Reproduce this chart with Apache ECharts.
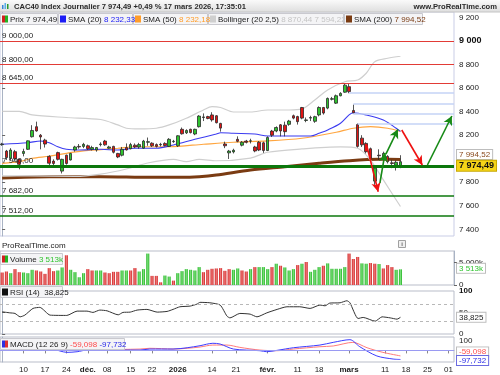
<!DOCTYPE html>
<html><head><meta charset="utf-8">
<script src="https://cdn.jsdelivr.net/npm/echarts@6/dist/echarts.min.js"></script>
<style>html,body{margin:0;padding:0;background:#fff}#c{width:500px;height:375px}</style>
</head><body><div id="c"></div><script>
// ---------- DATA ----------
const SLOTS = 106; // trading-day slots on the x axis (incl. empty future days)
const opens  = [8120,8065,8004,8060,7995,8045,8080,8187,8272,8200,8158,8020,7980,8052,7895,8030,7990,8075,8105,8105,8110,8080,8075,8120,8150,8090,8105,8045,8030,8095,8085,8115,8100,8090,8140,8132,8120,8118,8130,8105,8145,8110,8250,8220,8250,8210,8272,8350,8358,8372,8365,8300,8125,8050,8058,8165,8115,8150,8150,8100,8140,8135,8070,8235,8236,8288,8285,8292,8365,8358,8435,8325,8345,8318,8372,8435,8430,8505,8472,8535,8565,8612,8410,8290,8175,8130,8085,7810,8030,7995,8020,7965,7945,7930];
const closes = [8125,8010,8074,8000,7953,8062,8152,8240,8236,8185,8125,7962,7960,7995,7995,7960,8045,8100,8100,8122,8085,8095,8095,8125,8118,8100,8055,8015,8080,8075,8120,8100,8120,8150,8145,8110,8105,8122,8112,8165,8148,8195,8212,8240,8222,8250,8362,8355,8342,8330,8306,8260,8110,8065,8072,8148,8140,8140,8152,8066,8074,8070,8180,8200,8265,8236,8230,8320,8345,8315,8345,8330,8350,8357,8435,8388,8512,8510,8535,8555,8625,8570,8390,8105,8118,8060,8005,7920,8025,8045,7975,7960,7970,7974.49];
const lows   = [8110,7990,7985,7985,7910,8020,8075,8180,8230,8080,8095,7925,7930,7985,7875,7950,7985,8060,8085,8090,8075,8070,8060,8105,8110,8085,8045,8005,8020,8070,8080,8090,8085,8085,8110,8100,8095,8105,8105,8100,8135,8100,8205,8210,8215,8200,8265,8320,8335,8315,8300,8230,8090,7998,8045,8140,8105,8130,8130,8055,8065,8050,8065,8185,8225,8190,8190,8280,8335,8290,8335,8310,8320,8305,8360,8375,8420,8495,8465,8530,8560,8556,8385,8095,8100,8045,7990,7778,7990,7985,7960,7920,7900,7920];
const highs  = [8135,8075,8090,8075,8000,8085,8155,8285,8315,8210,8170,8030,7995,8060,8000,8035,8050,8110,8125,8135,8120,8110,8100,8140,8160,8110,8110,8050,8100,8130,8135,8130,8135,8160,8180,8140,8130,8135,8140,8175,8160,8200,8265,8250,8255,8255,8370,8385,8365,8395,8370,8305,8145,8075,8085,8190,8150,8160,8170,8110,8150,8145,8190,8245,8275,8295,8315,8330,8375,8365,8440,8350,8365,8365,8445,8440,8520,8525,8545,8565,8640,8640,8460,8300,8200,8140,8095,7930,8080,8060,8030,7990,7985,8030];
// volume in thousands, and bar colour (1 = green, 0 = red)
const volumes = [2803,3030,2652,3561,2879,2803,2652,3409,3258,3030,2500,3788,3106,3258,3940,6667,3409,2879,1742,2652,3561,3258,3258,3258,2803,2652,2955,2955,3258,3258,3258,3788,3030,3561,7045,2045,2045,606,2121,1894,985,2652,3106,3561,3409,3258,4015,2879,3409,3636,3712,3788,3182,3561,3409,3712,3258,3030,3561,4015,4015,4015,3561,4015,4773,4318,3940,3258,3561,4470,4773,5152,2955,3409,4015,4318,4849,3636,3636,3636,4015,7045,5833,6288,4849,4773,4924,4773,4697,3712,4470,4015,3409,3513];
const volUp   = [0,0,1,0,0,1,1,1,0,0,0,0,0,1,1,0,1,1,1,1,0,0,1,1,0,0,0,0,1,1,0,0,1,1,1,0,0,0,1,1,0,1,1,1,1,1,1,0,0,0,0,0,0,0,1,1,0,0,1,0,1,1,1,0,1,0,1,1,1,0,1,0,1,1,1,0,1,1,1,1,1,0,0,0,1,1,0,0,1,0,0,0,1,1];
// indicator lines: [slot, value]
const sma20 = [[0,8123],[6,8136],[9,8151],[11,8136],[13,8102],[15,8080],[18,8074],[23,8080],[27,8074],[31,8089],[36,8089],[40,8117],[45,8165],[50,8210],[51,8221],[54,8216],[59,8210],[62,8193],[67,8193],[72,8193],[74,8216],[76,8244],[79,8301],[81,8372],[82,8391],[85,8372],[89,8329],[92,8259],[93,8232.33]];
const sma50 = [[0,7961],[4,7975],[7,8004],[11,8021],[15,8046],[19,8066],[23,8078],[27,8089],[31,8102],[39,8102],[47,8123],[54,8140],[62,8151],[70,8174],[78,8225],[82,8259],[86,8272],[90,8259],[93,8232.18]];
const sma200 = [[0,7837],[11,7848],[23,7848],[35,7842],[42,7842],[46,7848],[50,7862],[58,7904],[66,7932],[74,7961],[81,7983],[88,7995],[93,7994.52]];
const bollUp = [[0,8403],[4,8403],[7,8372],[15,8350],[23,8333],[27,8287],[29,8259],[32,8253],[36,8259],[39,8287],[43,8344],[47,8414],[49,8442],[51,8435],[54,8397],[58,8397],[62,8414],[67,8414],[70,8423],[73,8499],[76,8584],[80,8654],[83,8669],[85,8726],[87,8824],[90,8853],[93,8870.44]];
const bollLow = [[0,7854],[6,7854],[17,7850],[23,7870],[29,7913],[34,7964],[40,7995],[43,7975],[46,7995],[50,7983],[58,8006],[62,8055],[70,8083],[79,8100],[83,8089],[86,7989],[89,7820],[93,7594.22]];
const rsi = [[0,51.6],[1.8,49.2],[3,47.8],[4.2,39.9],[5.3,43.9],[7.2,59.5],[8.8,61.9],[11.2,43.9],[15.1,43.2],[17.5,53.2],[19.8,53.2],[21.2,50.2],[22.8,55.6],[24.5,53.9],[27.1,44.6],[28.2,50.2],[29.9,50.9],[31.5,55.6],[33.8,57.2],[36.2,50.9],[38.5,52.5],[39.9,57.2],[41.5,63.3],[43.9,64.9],[45.5,69.6],[46.2,73.6],[48.5,72.6],[50.9,67.3],[52.5,41.5],[53.2,37.5],[55.5,47.8],[57.9,46.2],[59.5,39.9],[61.8,49.2],[64.2,57.2],[66.5,63.3],[69.5,63.3],[71.9,59.5],[74.2,67.3],[75.4,65.6],[76.5,71.9],[78.9,72.6],[80.5,77.3],[81.2,72.6],[83.1,36.1],[84.3,38.5],[87.1,29.8],[88.7,39.9],[90.6,37.5],[92.2,34.5],[93,38.825]];
const macdLine = [[0,26],[4,23],[11,23],[13.5,-6],[15.1,-21],[17.5,-14],[19.8,4],[32.2,4],[34.5,15],[39.9,15],[43.2,29],[46.2,51],[49.2,77],[50.9,69],[54,15],[60.2,-3],[61.8,-14],[64.2,1],[68,29],[74.2,58],[77.3,87],[81.2,116],[83.5,40],[87.5,-60],[91.3,-93],[93,-97.732]];
const macdSignal = [[0,15],[11.2,15],[22.8,8],[32.2,15],[34.5,23],[39.9,15],[43.2,23],[46.2,37],[49.2,58],[52.5,58],[55.5,33],[60.2,4],[64.2,-3],[68,15],[74.2,40],[77.3,48],[81.9,87],[85.2,29],[88.9,-21],[93,-59.098]];
// horizontal levels
const levelsRed = [9000, 8800, 8645];
const levelsGreen = [7940, 7682, 7512];
const fibLevels = [8561, 8465, 8380, 8293];
const fibStart  = [81, 82, 82, 83];
// drawn arrows: [[slot,value] from, [slot,value] to]
const arrowsRed = [[[85.1,8117],[87.8,7720]], [[93.3,8244],[98.1,7947]]];
const arrowsGreen = [[[88.2,7794],[89.4,8050]], [[89.6,8040],[92.4,8250]], [[99.3,7947],[105.0,8363]]];
// tick labels
const priceTicks = [7400,7600,7800,8200,8400,8600,8800,9000,9200];
const xTickPos  = [5,10,15,20,24.5,30,35,41,49,54.6,62,69,74,81,89.4,94.3,99.3,104.2];
const xTickText = ['10','17','24','déc.','08','15','22','2026','14','21','févr.','11','18','mars','11','18','25','01'];
const xTickBold = ['déc.','2026','févr.','mars'];
const last = {price:7974.49, sma20:8232.33, sma50:8232.18, bu:8870.44, bl:7594.22, sma200:7994.52, vol:3513, rsi:38.825, macd:-97.732, signal:-59.098};

// ---------- HELPERS ----------
const F = '"Liberation Sans", Arial, sans-serif';
function fmt(v, dec){ const neg = v<0; let s = Math.abs(v).toFixed(dec||0); let [i,d] = s.split('.'); i = i.replace(/\B(?=(\d{3})+(?!\d))/g,' '); return (neg?'-':'') + i + (d?','+d:''); }
const slotCats = Array.from({length: SLOTS}, (_, i) => String(i));
const candleData = opens.map((o,i)=>[o, closes[i], lows[i], highs[i]]);
const volData = volumes.map((v,i)=>({value:v, itemStyle:{color: volUp[i] ? {type:'linear',x:0,y:0,x2:1,y2:0,colorStops:[{offset:0,color:'#22b322'},{offset:0.5,color:'#7be07b'},{offset:1,color:'#22b322'}]} : {type:'linear',x:0,y:0,x2:1,y2:0,colorStops:[{offset:0,color:'#cc2020'},{offset:0.5,color:'#f07a7a'},{offset:1,color:'#cc2020'}]}}}));

const G0 = {left:0, right:46, top:12, height:224};
const G1 = {left:0, right:46, top:251, height:34};
const G2 = {left:0, right:46, top:291, height:43};
const G3 = {left:0, right:46, top:337, height:25};
const axisLineStyle = {show:true, lineStyle:{color:'#a9b3c4', width:1}};
const HIDDEN = {color:'rgba(0,0,0,0)', width:0, type:'solid'};

function hline(v, color, width, text){
  return {yAxis:v, lineStyle:{color:color, width:width, type:'solid'},
    label: text ? {show:true, position:'insideStartTop', formatter:text, color:'#222', fontFamily:F, fontSize:8, distance:[2,1]} : {show:false}};
}
function endBox(v, text, color, bg, border, bold, dy){
  return {yAxis:v, lineStyle:HIDDEN,
    label:{show:true, position:'end', formatter:text, color:color, backgroundColor:bg, borderColor:border, borderWidth:1, padding:[1,2,0,2], fontFamily:F, fontSize:bold?9:8, fontWeight:bold?'bold':'normal', distance:3, offset:[0, dy||0]}};
}

const levelMarks = [];
levelsRed.forEach(v => levelMarks.push(hline(v, '#e23b36', 1.2, fmt(v,2))));
levelsGreen.forEach((v,i) => levelMarks.push(hline(v, '#0c770c', i===0?3:1.6, fmt(v,2))));
fibLevels.forEach((v,i) => levelMarks.push([{coord:[fibStart[i], v], lineStyle:{color:'#c5d3f6', width:1.5, type:'solid'}, label:{show:false}}, {coord:[SLOTS-0.5, v]}]));
const arrowData = [];
arrowsRed.forEach(a => arrowData.push([{coord:a[0], lineStyle:{color:'#ee1111', width:1.6, type:'solid'}, label:{show:false}}, {coord:a[1]}]));
arrowsGreen.forEach(a => arrowData.push([{coord:a[0], lineStyle:{color:'#178a17', width:1.6, type:'solid'}, label:{show:false}}, {coord:a[1]}]));

function lineS(data, color, width, xi, yi, extra){
  return Object.assign({type:'line', data:data, xAxisIndex:xi, yAxisIndex:yi, showSymbol:false, symbol:'none', smooth:0.3, lineStyle:{color:color, width:width}, silent:true, animation:false, z:3}, extra||{});
}

const chart = echarts.init(document.getElementById('c'), null, {renderer:'canvas'});

const option = {
  animation:false,
  backgroundColor:'#ffffff',
  grid:[
    Object.assign({show:true, borderColor:'#c9cde6', borderWidth:1, backgroundColor:'#fff'}, G0),
    Object.assign({show:true, borderColor:'#b9bdc9', borderWidth:1}, G1),
    Object.assign({show:true, borderColor:'#b9bdc9', borderWidth:1}, G2),
    Object.assign({show:true, borderColor:'#b9bdc9', borderWidth:1}, G3)
  ],
  xAxis:[
    {type:'category', gridIndex:0, data:slotCats, boundaryGap:true, show:false},
    {type:'value', gridIndex:0, min:-0.5, max:SLOTS-0.5, show:false},
    {type:'category', gridIndex:1, data:slotCats, boundaryGap:true, show:false},
    {type:'value', gridIndex:2, min:-0.5, max:SLOTS-0.5, show:false},
    {type:'value', gridIndex:3, min:-0.5, max:SLOTS-0.5, position:'bottom',
      axisLine:axisLineStyle, splitLine:{show:false},
      axisTick:{show:true, customValues:xTickPos, length:3, lineStyle:{color:'#888'}},
      axisLabel:{show:true, customValues:xTickPos, margin:4, color:'#222', fontFamily:F, fontSize:8,
        formatter:(v)=>{ let k = xTickPos.findIndex(p=>Math.abs(p-v)<0.01); if(k<0) return ''; const t = xTickText[k]; return xTickBold.includes(t) ? '{b|'+t+'}' : t; },
        rich:{b:{fontWeight:'bold', fontFamily:F, fontSize:8, color:'#222'}}}}
  ],
  yAxis:[
    {type:'value', gridIndex:0, position:'right', min:7344, max:9246, scale:true, splitLine:{show:false},
      axisLine:axisLineStyle, axisTick:{show:true, customValues:priceTicks, length:3, lineStyle:{color:'#666'}},
      axisLabel:{customValues:priceTicks, margin:5, color:'#222', fontFamily:F, fontSize:8,
        formatter:(v)=> v===9000 ? '{b|'+fmt(v)+'}' : fmt(v), rich:{b:{fontWeight:'bold', fontSize:9, fontFamily:F, color:'#111'}}}},
    {type:'value', gridIndex:1, position:'right', min:0, max:7623, splitLine:{show:false},
      axisLine:axisLineStyle, axisTick:{show:true, customValues:[0,5000], length:3, lineStyle:{color:'#666'}},
      axisLabel:{customValues:[0,5000], margin:5, color:'#222', fontFamily:F, fontSize:8, formatter:(v)=> v===0 ? '0' : fmt(v)+'k'}},
    {type:'value', gridIndex:2, position:'right', min:0, max:100, splitLine:{show:false},
      axisLine:axisLineStyle, axisTick:{show:true, customValues:[0,50,100], length:3, lineStyle:{color:'#666'}},
      axisLabel:{customValues:[0,50,100], margin:5, color:'#222', fontFamily:F, fontSize:8, formatter:(v)=> v===100 ? '{b|100}' : String(v), rich:{b:{fontWeight:'bold', fontSize:8, fontFamily:F, color:'#111'}}}},
    {type:'value', gridIndex:3, position:'right', min:-125, max:145, splitLine:{show:false},
      axisLine:axisLineStyle, axisTick:{show:true, customValues:[100], length:3, lineStyle:{color:'#666'}},
      axisLabel:{customValues:[100], margin:5, color:'#222', fontFamily:F, fontSize:8}}
  ],
  series:[
    lineS(bollUp, '#cfcfcf', 1.2, 1, 0),
    lineS(bollLow, '#cfcfcf', 1.2, 1, 0),
    lineS(sma200, '#7a3b12', 3, 1, 0, {z:2}),
    {type:'candlestick', xAxisIndex:0, yAxisIndex:0, data:candleData, barWidth:'72%', z:4,
      itemStyle:{color:'#2fc42f', color0:'#e01414', borderColor:'#2a2a2a', borderColor0:'#2a2a2a', borderWidth:0.8}},
    lineS(sma50, '#ffa640', 1.2, 1, 0, {z:3}),
    lineS(sma20, '#3b3bf0', 1.1, 1, 0, {z:3, markLine:{silent:true, symbol:['none','none'], animation:false, z:5, data:levelMarks}}),
    {type:'line', xAxisIndex:1, yAxisIndex:0, data:[[93, last.price]], showSymbol:false, lineStyle:HIDDEN, silent:true, z:6,
      markLine:{silent:true, symbol:['none','arrow'], symbolSize:[7,9], animation:false, z:6, data:arrowData}},
    {type:'line', xAxisIndex:1, yAxisIndex:0, data:[[93, last.price]], showSymbol:false, lineStyle:HIDDEN, silent:true, z:7,
      markLine:{silent:true, symbol:['none','none'], animation:false, clip:false,
        data:[endBox(last.sma200, fmt(last.sma200,2), '#8a4a1e', '#ffffff', '#bdbdbd', false, -5),
              endBox(last.price, fmt(last.price,2), '#111', '#f5d418', '#c8a800', true, 4)]}},
    {type:'bar', xAxisIndex:2, yAxisIndex:1, data:volData, barWidth:'72%', z:3,
      markLine:{silent:true, symbol:['none','none'], animation:false, clip:false,
        data:[endBox(last.vol, fmt(last.vol)+'k', '#2fc42f', '#ffffff', '#bdbdbd', false, -1)]}},
    lineS(rsi, '#333333', 1, 3, 2, {smooth:0.2,
      markLine:{silent:true, symbol:['none','none'], animation:false, clip:false,
        data:[{yAxis:70, lineStyle:{color:'#b8b8b8', type:[3,3], width:1}, label:{show:false}},
              {yAxis:30, lineStyle:{color:'#b8b8b8', type:[3,3], width:1}, label:{show:false}},
              endBox(last.rsi, fmt(last.rsi,3), '#222', '#ffffff', '#bdbdbd', false, 0)]}}),
    lineS(macdSignal, '#ff7b7b', 1, 4, 3, {smooth:0.3}),
    lineS(macdLine, '#3c3cff', 1, 4, 3, {smooth:0.3,
      markLine:{silent:true, symbol:['none','none'], animation:false, clip:false,
        data:[{yAxis:0, lineStyle:{color:'#9a9af2', width:1, type:'solid'}, label:{show:false}},
              endBox(last.signal, fmt(last.signal,3), '#ff5050', '#ffffff', '#bdbdbd', false, -4),
              endBox(last.macd, fmt(last.macd,3), '#2a2ae8', '#ffffff', '#6a6ae0', false, 1)]}})
  ],
  graphic:[]
};

// ---------- HEADER / LEGENDS (text) ----------
function box(x, y, w, h){ return {type:'rect', shape:{x:x, y:y, width:w, height:h}, style:{fill:'#f4f4f6', stroke:'#c9c9cf', lineWidth:1}, z:100}; }
function sq(x, y, c1, c2){ const els=[{type:'rect', shape:{x:x, y:y, width:c2?3:6, height:7}, style:{fill:c1}, z:101}]; if(c2) els.push({type:'rect', shape:{x:x+3, y:y, width:3, height:7}, style:{fill:c2}, z:101}); return els; }
function rtext(x, y, text, rich){ return {type:'text', x:x, y:y, z:102, style:{text:text, font:'8px '+F, fill:'#222', verticalAlign:'middle', rich:rich}}; }
const R = (c)=>({fill:c, font:'8px '+F});
const g = [];
g.push({type:'rect', shape:{x:0,y:0,width:500,height:12}, style:{fill:{type:'linear',x:0,y:0,x2:0,y2:1,colorStops:[{offset:0,color:'#fafafa'},{offset:1,color:'#dedede'}]}}, z:100});
g.push({type:'line', shape:{x1:0,y1:12,x2:500,y2:12}, style:{stroke:'#c4c4c4', lineWidth:1}, z:100});
[['#3a86d8',2,5,4],['#5bb0e8',4.5,3,6],['#2a9a2a',7,4,5]].forEach(a=>g.push({type:'rect', shape:{x:a[1], y:a[2], width:1.5, height:a[3]}, style:{fill:a[0]}, z:101}));
g.push({type:'text', x:14, y:6.5, z:102, style:{text:'CAC40 Index Journalier 7 974,49 +0,49 % 17 mars 2026, 17:35:01', font:'bold 7.6px '+F, fill:'#2a2a2a', verticalAlign:'middle'}});
g.push({type:'text', x:497, y:6.5, z:102, style:{text:'www.ProRealTime.com', font:'bold 7.6px '+F, fill:'#2a2a2a', verticalAlign:'middle', align:'right'}});
g.push(box(0.5,13.5,57,11)); g.push(...sq(2,15.5,'#d02020','#22b322'));
g.push(rtext(10,19.5,'{a|Prix 7 974,49}',{a:R('#222')}));
g.push(box(58.5,13.5,74,11)); g.push(...sq(60,15.5,'#1c1cf5'));
g.push(rtext(68,19.5,'{a|SMA (20)} {b|'+fmt(last.sma20,2)+'}',{a:R('#222'),b:R('#1c1cf5')}));
g.push(box(133.5,13.5,74,11)); g.push(...sq(135,15.5,'#ff9d2a'));
g.push(rtext(143,19.5,'{a|SMA (50)} {b|'+fmt(last.sma50,2)+'}',{a:R('#222'),b:R('#ff9d2a')}));
g.push(box(208.5,13.5,135,11)); g.push(...sq(210,15.5,'#cfcfcf'));
g.push(rtext(218,19.5,'{a|Bollinger (20 2,5)} {b|'+fmt(last.bu,2)+' '+fmt(last.bl,2)+'}',{a:R('#222'),b:R('#c4c4c4')}));
g.push(box(344.5,13.5,78,11)); g.push(...sq(346,15.5,'#7a3b12'));
g.push(rtext(354,19.5,'{a|SMA (200)} {b|'+fmt(last.sma200,2)+'}',{a:R('#222'),b:R('#7a3b12')}));
g.push({type:'rect', shape:{x:0,y:237,width:454,height:13}, style:{fill:'#ffffff'}, z:99});
g.push({type:'text', x:2, y:246, z:102, style:{text:'ProRealTime.com', font:'8px '+F, fill:'#222', verticalAlign:'middle'}});
g.push({type:'rect', shape:{x:398.5,y:240.5,width:7,height:7}, style:{fill:'#f0f0f0', stroke:'#a0a0a0', lineWidth:1}, z:102});
g.push({type:'text', x:402, y:244.5, z:103, style:{text:'i', font:'bold 6px '+F, fill:'#666', align:'center', verticalAlign:'middle'}});
g.push(box(0.5,253.5,62,11)); g.push(...sq(2,255.5,'#d02020','#22b322'));
g.push(rtext(10,259.5,'{a|Volume} {b|'+fmt(last.vol)+'k}',{a:R('#222'),b:R('#2fc42f')}));
g.push(box(0.5,286.5,62,11)); g.push(...sq(2,288.5,'#111111'));
g.push(rtext(10,292.5,'{a|RSI (14)  '+fmt(last.rsi,3)+'}',{a:R('#222')}));
g.push(box(0.5,338.5,124,11)); g.push(...sq(2,340.5,'#3030e0','#e03030'));
g.push(rtext(10,344.5,'{a|MACD (12 26 9)} {r|'+fmt(last.signal,3)+'} {b|'+fmt(last.macd,3)+'}',{a:R('#222'),r:R('#ff4a4a'),b:R('#2a2ae8')}));
option.graphic = g;

chart.setOption(option);
</script></body></html>
